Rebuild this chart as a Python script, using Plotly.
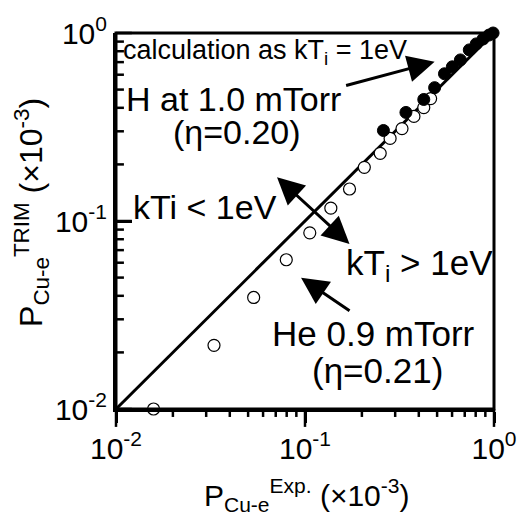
import math
import plotly.graph_objects as go

# ---- data ----
he_exp = [0.0158, 0.033, 0.0535, 0.0796, 0.106, 0.137, 0.172, 0.206, 0.250, 0.282, 0.326, 0.377, 0.425, 0.462]
he_trim = [0.0100, 0.0218, 0.0392, 0.0622, 0.0865, 0.117, 0.148, 0.193, 0.229, 0.275, 0.310, 0.360, 0.401, 0.448]

h_exp = [0.260, 0.342, 0.425, 0.485, 0.547, 0.602, 0.664, 0.740, 0.805, 0.875, 0.941, 0.989]
h_trim = [0.303, 0.378, 0.443, 0.512, 0.607, 0.661, 0.719, 0.813, 0.875, 0.929, 0.975, 1.000]

line_x = [0.01, 1.0]
line_y = [0.01, 1.0]

major_vals = [0.01, 0.1, 1.0]
major_text = ["10<sup>-2</sup>", "10<sup>-1</sup>", "10<sup>0</sup>"]
minor_vals = [m * d for d in (0.01, 0.1) for m in range(2, 10)]

AX_RANGE = [-2, 0]  # log10 range of both axes

FONT = "Liberation Sans, Arial, Helvetica, sans-serif"

fig = go.Figure()
fig.add_trace(go.Scatter(x=line_x, y=line_y, mode="lines",
                         line=dict(color="black", width=3), showlegend=False))
fig.add_trace(go.Scatter(x=he_exp, y=he_trim, mode="markers", cliponaxis=False,
                         marker=dict(symbol="circle", size=12, color="white",
                                     line=dict(color="black", width=1.2)),
                         showlegend=False))
fig.add_trace(go.Scatter(x=h_exp, y=h_trim, mode="markers", cliponaxis=False,
                         marker=dict(symbol="circle", size=12, color="black",
                                     line=dict(color="black", width=1)),
                         showlegend=False))

L, R, T, B = 116, 31, 31, 111
W, H = 529, 520
PW, PH = W - L - R, H - T - B


def px(x):
    return (x - L) / PW


def py(y):
    return (H - B - y) / PH


def frac(v):
    """position of a value along a log axis, as a fraction of the axis"""
    return (math.log10(v) - AX_RANGE[0]) / (AX_RANGE[1] - AX_RANGE[0])


axis_common = dict(type="log", range=AX_RANGE, showline=True, linewidth=3,
                   linecolor="black", mirror=False, showgrid=False, zeroline=False,
                   tickcolor="black", tickwidth=2.5, tickmode="array",
                   tickvals=major_vals, ticktext=major_text,
                   tickfont=dict(family=FONT, size=30, color="black"))

fig.update_xaxes(**axis_common, ticks="outside", ticklen=11)
fig.update_yaxes(**axis_common, ticks="inside", ticklen=16)

# plot frame
fig.add_shape(type="rect", xref="paper", yref="paper", x0=0, y0=0, x1=1, y1=1,
              line=dict(color="black", width=3), fillcolor="rgba(0,0,0,0)",
              layer="above")

# tick marks, placed from the tick value lists
tick_line = dict(color="black", width=2.5)
for vals, xlen, ylen in ((major_vals, 18, 16), (minor_vals, 8, 8)):
    for v in vals:
        f = frac(v)
        # bottom axis: outward (down)
        fig.add_shape(type="line", xref="paper", yref="paper", x0=f, x1=f,
                      y0=0, y1=-xlen / PH, line=tick_line, layer="above")
        # left axis: inward (right)
        fig.add_shape(type="line", xref="paper", yref="paper", y0=f, y1=f,
                      x0=0, x1=ylen / PW, line=tick_line, layer="above")

ann = []


def text(t, x, y, size, xanchor="left", yanchor="middle", angle=0):
    ann.append(dict(text=t, x=px(x), y=py(y), xref="paper", yref="paper",
                    xanchor=xanchor, yanchor=yanchor, showarrow=False,
                    textangle=angle,
                    font=dict(family=FONT, size=size, color="black")))


def arrow(hx, hy, tx, ty, both=False):
    d = dict(text="", x=px(hx), y=py(hy), xref="paper", yref="paper",
             ax=tx - hx, ay=ty - hy, showarrow=True, arrowhead=2,
             arrowsize=1.8, arrowwidth=3, arrowcolor="black", standoff=0)
    if both:
        d.update(arrowside="end+start", startarrowhead=2, startarrowsize=1.8,
                 startstandoff=0)
    ann.append(d)


text("calculation as kT<sub>i</sub> = 1eV", 121, 50, 27)
text("H at 1.0 mTorr", 124, 97, 34)
text("(η=0.20)", 238, 131, 34, xanchor="center")
text("kTi &lt; 1eV", 131, 206, 34)
text("kT<sub>i</sub> &gt; 1eV", 346, 264, 35)
text("He 0.9 mTorr", 272, 333, 35)
text("(η=0.21)", 312, 370, 35)

arrow(438, 60, 348, 84)
arrow(352, 243, 278, 175, both=True)
arrow(303, 277, 353, 311)

text("P<sub>Cu-e</sub><sup>Exp.</sup> (×10<sup>-3</sup>)", 309, 495, 30, xanchor="center")
text("P<sub>Cu-e</sub><sup>TRIM</sup> (×10<sup>-3</sup>)", 30, 211, 32,
     xanchor="center", angle=-90)

fig.update_layout(width=W, height=H, margin=dict(l=L, r=R, t=T, b=B),
                  plot_bgcolor="white", paper_bgcolor="white",
                  annotations=ann, showlegend=False,
                  font=dict(family=FONT, color="black"))

fig.write_html("out.html")
